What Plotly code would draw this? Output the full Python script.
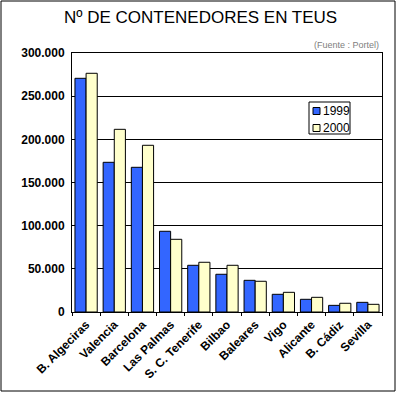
import plotly.graph_objects as go

categories = ["B. Algeciras", "Valencia", "Barcelona", "Las Palmas", "S. C. Tenerife",
              "Bilbao", "Baleares", "Vigo", "Alicante", "B. Cádiz", "Sevilla"]
values_1999 = [270700, 173400, 167600, 93500, 54100, 43700, 36700, 20500, 14700, 7700, 11200]
values_2000 = [276500, 211600, 193100, 84200, 57600, 54100, 35600, 22800, 17000, 10100, 8900]
series_names = ["1999", "2000"]
series_colors = ["#3366FF", "#FFFFCC"]
y_tickvals = [0, 50000, 100000, 150000, 200000, 250000, 300000]
y_ticktext = ["0", "50.000", "100.000", "150.000", "200.000", "250.000", "300.000"]

W, H = 397, 393
L, R, T, B = 72, 15, 53, 81
pw, ph = W - L - R, H - T - B

def px(x):
    return (x - L) / pw

def py(y):
    return (H - B - y) / ph

fig = go.Figure()
for name, vals, col in zip(series_names, [values_1999, values_2000], series_colors):
    fig.add_trace(go.Bar(x=categories, y=vals, name=name,
                         marker=dict(color=col, line=dict(color="black", width=1))))

fig.update_layout(
    width=W, height=H,
    margin=dict(l=L, r=R, t=T, b=B, pad=0),
    paper_bgcolor="white", plot_bgcolor="white",
    barmode="group", bargap=0.21, bargroupgap=0,
    font=dict(family="Arial, Liberation Sans", color="black"),
    showlegend=False,
    xaxis=dict(showline=True, linecolor="black", linewidth=1, mirror=True,
               ticks="outside", tickson="boundaries", ticklen=3, tickcolor="black",
               tickangle=-45, tickfont=dict(size=12, family="Arial, Liberation Sans", weight="bold"),
               showgrid=False, fixedrange=True),
    yaxis=dict(range=[0, 300000], tickvals=y_tickvals, ticktext=y_ticktext,
               showline=True, linecolor="black", linewidth=1, mirror=True,
               showgrid=True, gridcolor="black", gridwidth=1, zeroline=False,
               ticks="", tickfont=dict(size=12, family="Arial, Liberation Sans", weight="bold"),
               ticklabelstandoff=4, fixedrange=True),
)

fig.add_annotation(text="Nº DE CONTENEDORES EN TEUS", xref="paper", yref="paper",
                   x=px(200), y=py(17), xanchor="center", yanchor="middle", showarrow=False,
                   font=dict(size=17, family="Arial, Liberation Sans", color="black"))
fig.add_annotation(text="(Fuente : Portel)", xref="paper", yref="paper",
                   x=px(381), y=py(45), xanchor="right", yanchor="middle", showarrow=False,
                   font=dict(size=9, family="Arial, Liberation Sans", color="#808080"))
# outer frame
fig.add_shape(type="rect", xref="paper", yref="paper",
              x0=px(1), x1=px(395), y0=py(391), y1=py(1),
              line=dict(color="black", width=1), fillcolor="rgba(0,0,0,0)", layer="above")

# compact legend (Excel style)
fig.add_shape(type="rect", xref="paper", yref="paper",
              x0=px(309), x1=px(350), y0=py(134), y1=py(102),
              line=dict(color="black", width=1), fillcolor="white", layer="above")
for i, (name, col) in enumerate(zip(series_names, series_colors)):
    cy = 111 + i * 17
    fig.add_shape(type="rect", xref="paper", yref="paper",
                  x0=px(313), x1=px(320), y0=py(cy + 3.5), y1=py(cy - 3.5),
                  line=dict(color="black", width=1), fillcolor=col, layer="above")
    fig.add_annotation(text=name, xref="paper", yref="paper",
                       x=px(321), y=py(cy), xanchor="left", yanchor="middle", showarrow=False,
                       font=dict(size=12, family="Arial, Liberation Sans", color="black"))

fig.write_html("out.html", config={"displayModeBar": False},
               post_script="document.body.style.margin='0';document.body.style.overflow='hidden';")
